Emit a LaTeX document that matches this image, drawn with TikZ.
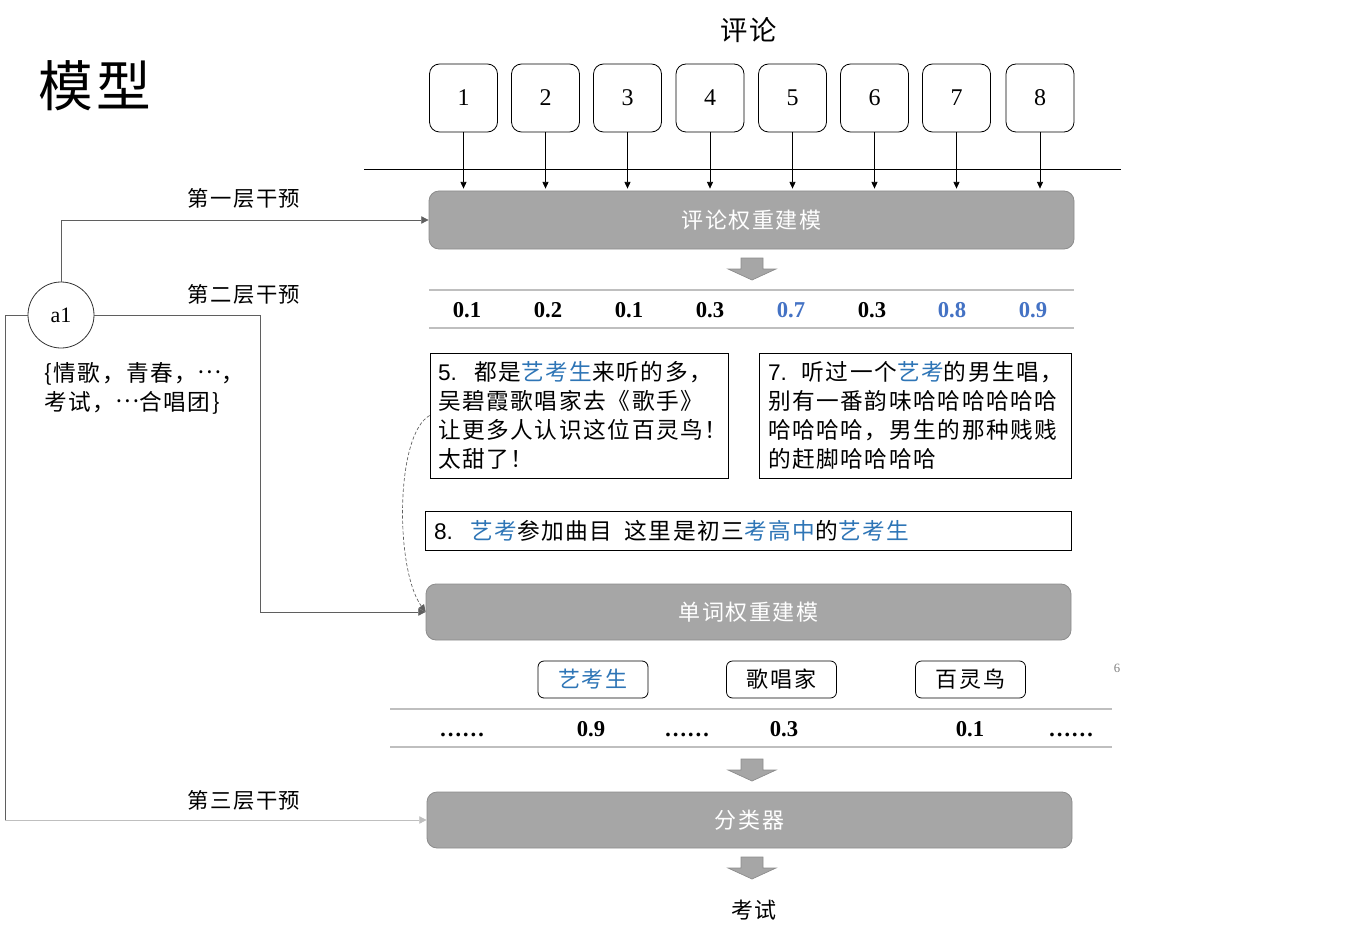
\documentclass[tikz,border=0pt]{standalone}
\usepackage{fontspec}
\setmainfont{Liberation Serif}
\newfontfamily\cjk[LetterSpace=7]{Noto Sans CJK SC}
\newfontfamily\arial{Liberation Sans}
\usetikzlibrary{arrows.meta}
\definecolor{grayfill}{RGB}{166,166,166}
\definecolor{grayborder}{RGB}{140,140,140}
\definecolor{rulegray}{RGB}{191,191,191}
\definecolor{connGray}{RGB}{95,95,95}
\definecolor{numblue}{RGB}{68,114,196}
\definecolor{wblue}{RGB}{46,117,182}
\newcommand\midells{\raisebox{0.33em}{…}}
\tikzset{
  numbox/.style={draw, line width=0.6pt, rounded corners=7.5pt, minimum width=51pt, minimum height=51pt, inner sep=0pt, font=\fontsize{18}{20}\selectfont},
  graybox/.style={draw=grayborder, fill=grayfill, line width=0.6pt, rounded corners=7.5pt, minimum width=483.75pt, inner sep=0pt, text=white, font=\cjk\fontsize{16.5}{20}\selectfont},
  cbox/.style={draw, line width=0.6pt, align=left, inner ysep=0pt, font=\cjk\fontsize{17}{21.75}\selectfont},
  wbox/.style={draw, line width=0.6pt, rounded corners=4.5pt, minimum width=82.5pt, minimum height=27.75pt, inner sep=0pt, font=\cjk\fontsize{16.5}{20}\selectfont},
  numtxt/.style={anchor=base, inner sep=0pt, font=\bfseries\fontsize{17}{20}\selectfont},
  lbl/.style={inner sep=0pt, font=\cjk\fontsize{16}{20}\selectfont},
  conn/.style={draw=connGray, line width=0.6pt, -{Triangle[length=5.5pt,width=5.5pt]}},
  downarr/.style={draw=black, line width=0.5pt, -{Triangle[length=5pt,width=4.5pt]}},
  rulel/.style={draw=rulegray, line width=0.8pt},
  blockarr/.style={fill=grayfill, draw=grayborder, line width=0.5pt},
}
\begin{document}
\begin{tikzpicture}[x=0.75pt,y=-0.75pt]
\useasboundingbox (0,0) rectangle (1360,938);

% title
\node[inner sep=0pt, font=\cjk\fontsize{41}{46}\selectfont] (title) at (95,86) {模型};
\node[inner sep=0pt, font=\cjk\fontsize{20.5}{24}\selectfont] (pl) at (749,30) {评论};

% comment boxes
\node[numbox] (b1) at (463.5,98) {1};
\node[numbox] (b2) at (545.5,98) {2};
\node[numbox] (b3) at (627.5,98) {3};
\node[numbox] (b4) at (710,98) {4};
\node[numbox] (b5) at (792.5,98) {5};
\node[numbox] (b6) at (874.5,98) {6};
\node[numbox] (b7) at (956.5,98) {7};
\node[numbox] (b8) at (1040,98) {8};

\draw[line width=0.7pt] (364,169) -- (1121,169);

% gray modelling boxes
\node[graybox, minimum height=43.5pt] (g1) at (751.5,220) {评论权重建模};
\node[graybox, minimum height=42pt] (g2) at (748.5,612) {单词权重建模};
\node[graybox, minimum height=42pt] (g3) at (749.5,820) {分类器};

\foreach \i in {1,...,8} {
  \draw[downarr] (b\i.south) -- ([yshift=1.5pt]b\i.south |- g1.north);
}

% block arrows
\foreach \yy in {258,759,857} {
  \draw[blockarr, shift={(752,\yy)}] (-11,0) -- (11,0) -- (11,11) -- (24,11) -- (0,22) -- (-24,11) -- (-11,11) -- cycle;
}

% first number row
\draw[rulel] (429,290) -- (1074,290);
\draw[rulel] (429,328) -- (1074,328);
\node[numtxt] (n1) at (467,317) {0.1};
\node[numtxt] (n2) at (548,317) {0.2};
\node[numtxt] (n3) at (629,317) {0.1};
\node[numtxt] (n4) at (710,317) {0.3};
\node[numtxt, text=numblue] (n5) at (791,317) {0.7};
\node[numtxt] (n6) at (872,317) {0.3};
\node[numtxt, text=numblue] (n7) at (952,317) {0.8};
\node[numtxt, text=numblue] (n8) at (1033,317) {0.9};

% comment texts
\node[cbox, text width=211.5pt, inner xsep=6pt, minimum height=93.75pt] (c5) at (579,415.5)
  {{\arial 5.}\hspace{13pt}都是\textcolor{wblue}{艺考生}来听的多，\\吴碧霞歌唱家去《歌手》\\让更多人认识这位百灵鸟！\\太甜了！};
\node[cbox, text width=220.5pt, inner xsep=6.75pt, minimum height=93.75pt] (c7) at (915,415.5)
  {\mbox{{\arial 7.}\hspace{11pt}听过一个\textcolor{wblue}{艺考}的男生唱，}\\别有一番韵味哈哈哈哈哈哈\\哈哈哈哈，男生的那种贱贱\\的赶脚哈哈哈哈};
\node[cbox, text width=471pt, inner xsep=6.75pt, minimum height=29.25pt] (c8) at (748,530.5)
  {{\arial 8.}\hspace{13pt}\textcolor{wblue}{艺考}参加曲目\hspace{9pt}这里是初三\textcolor{wblue}{考高中}的\textcolor{wblue}{艺考生}};

% word boxes
\node[wbox, text=wblue] (w1) at (593,679.5) {艺考生};
\node[wbox] (w2) at (781.5,679.5) {歌唱家};
\node[wbox] (w3) at (970.5,679.5) {百灵鸟};
\node[inner sep=0pt, text=gray, font=\fontsize{9.5}{11}\selectfont] (pg) at (1117,668) {6};

% second number row
\draw[rulel] (390,709) -- (1112,709);
\draw[rulel] (390,747) -- (1112,747);
\node[numtxt] (m1) at (462,736) {……};
\node[numtxt] (m2) at (591,736) {0.9};
\node[numtxt] (m3) at (687,736) {……};
\node[numtxt] (m4) at (784,736) {0.3};
\node[numtxt] (m5) at (970,736) {0.1};
\node[numtxt] (m6) at (1071,736) {……};

\node[inner sep=0pt, font=\cjk\fontsize{16.5}{20}\selectfont] (out) at (754,910) {考试};

% left part
\node[circle, draw=black!80, line width=0.6pt, minimum size=49.5pt, inner sep=0pt, font=\fontsize{16.5}{20}\selectfont] (a1) at (61,315) {a1};
\node[anchor=west, align=left, inner sep=0pt, font=\cjk\fontsize{17}{21.75}\selectfont] (kw) at (44,388)
  {\{情歌，青春，\midells，\\考试，\midells 合唱团\}};

\node[lbl] (l1) at (244,198) {第一层干预};
\node[lbl] (l2) at (244,294) {第二层干预};
\node[lbl] (l3) at (244,800) {第三层干预};

\coordinate (k2) at (260,315);
\coordinate (k3) at (5,315);
\coordinate (k3b) at (5,820);
\draw[conn] (a1.north) |- (g1.west);
\draw[conn] (a1.east) -- (k2) |- (g2.west);
\draw[draw=connGray, line width=0.6pt] (a1.west) -- (k3) -- (k3b);
\draw[conn, draw=rulegray] (k3b) -- (g3.west);
\draw[draw=connGray, line width=0.5pt, dash pattern=on 2.5pt off 1.5pt, -{Triangle[length=5.5pt,width=5pt]}]
  (c5.west) .. controls (395,435) and (395,570) .. (g2.west);
\end{tikzpicture}
\end{document}
